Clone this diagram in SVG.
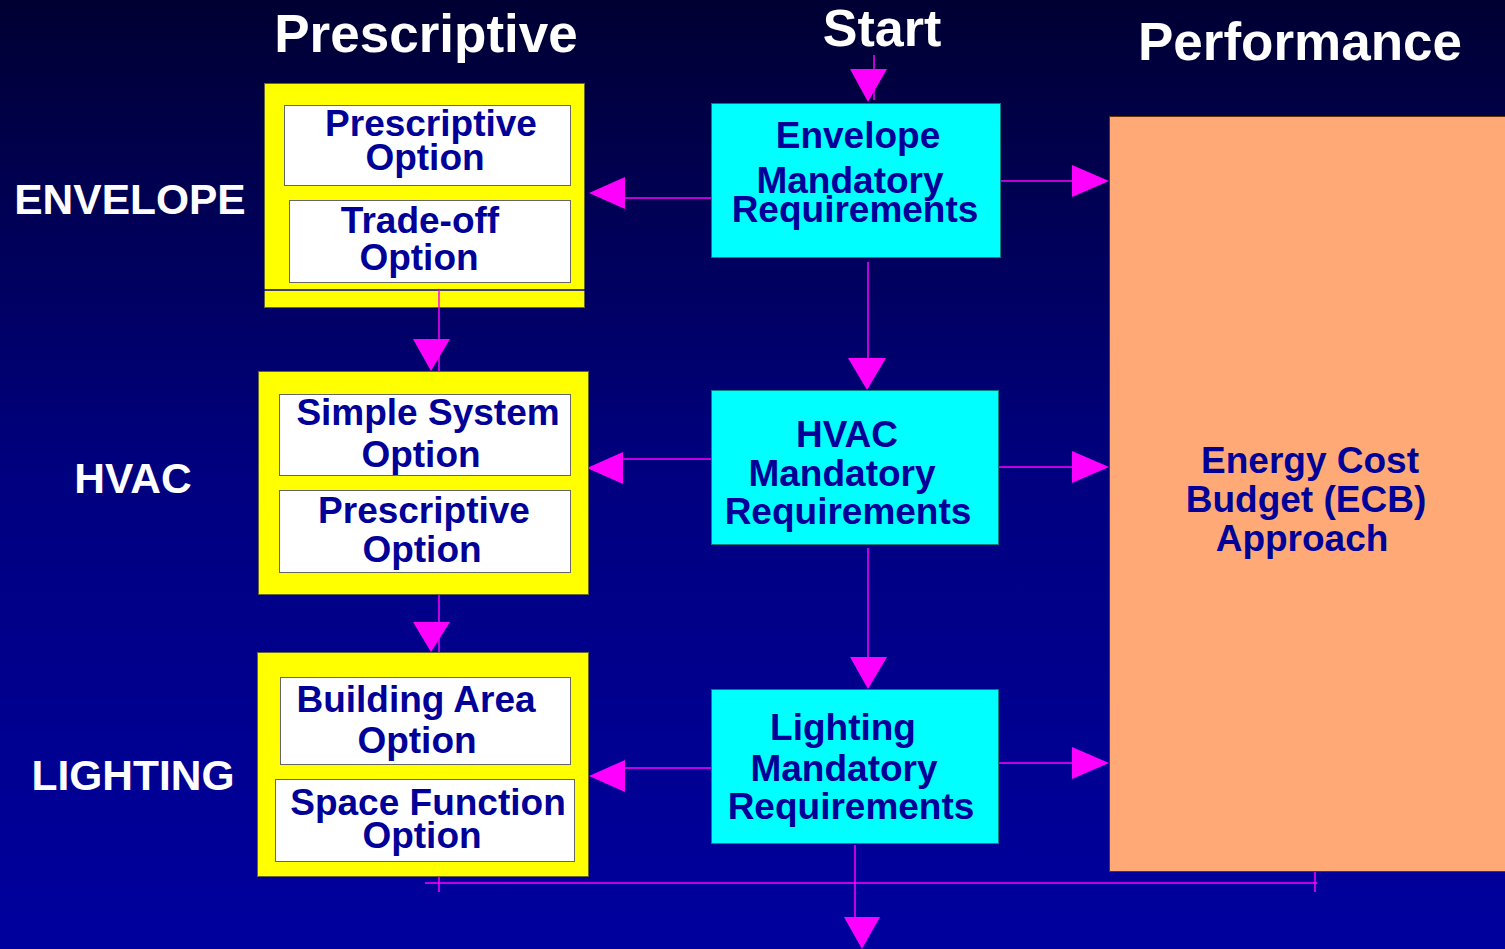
<svg xmlns="http://www.w3.org/2000/svg" width="1505" height="949" viewBox="0 0 1505 949">
<defs>
<linearGradient id="bg" x1="0" y1="0" x2="0" y2="1">
<stop offset="0" stop-color="#000033"/>
<stop offset="0.5" stop-color="#000080"/>
<stop offset="1" stop-color="#00009e"/>
</linearGradient>
<style>
.hd{font-family:"Liberation Sans",Arial,sans-serif;font-weight:bold;fill:#ffffff;text-anchor:middle}
.tx{font-family:"Liberation Sans",Arial,sans-serif;font-weight:bold;fill:#000099;text-anchor:middle;font-size:37px}
.yb{fill:#ffff00;stroke:#666633;stroke-width:1}
.wb{fill:#ffffff;stroke:#666666;stroke-width:1}
.cb{fill:#00ffff;stroke:#008080;stroke-width:1}
.ln{stroke:#ff00ff;stroke-width:1.5;fill:none}
.ah{fill:#ff00ff}
</style>
</defs>
<rect width="1505" height="949" fill="url(#bg)"/>

<text class="hd" x="426" y="52" font-size="53">Prescriptive</text>
<text class="hd" x="882" y="46" font-size="52">Start</text>
<text class="hd" x="1300" y="60" font-size="53">Performance</text>
<text class="hd" x="130" y="214" font-size="42.5">ENVELOPE</text>
<text class="hd" x="133" y="493" font-size="42.5">HVAC</text>
<text class="hd" x="133" y="790" font-size="42.5">LIGHTING</text>

<g id="connectors">
<line class="ln" x1="874" y1="55" x2="874" y2="100"/>
<polygon class="ah" points="850,69 887,69 868,102"/>
<line class="ln" x1="625" y1="198" x2="711" y2="198"/>
<polygon class="ah" points="589,193 625,177 625,209"/>
<line class="ln" x1="1001" y1="181" x2="1072" y2="181"/>
<polygon class="ah" points="1072,165 1072,197 1109,181"/>
<line class="ln" x1="868" y1="262" x2="868" y2="358"/>
<polygon class="ah" points="848,358 886,358 867,390"/>
<line class="ln" x1="439" y1="290" x2="439" y2="371"/>
<polygon class="ah" points="413,339 450,339 431,371"/>
<line class="ln" x1="623" y1="459" x2="711" y2="459"/>
<polygon class="ah" points="587,468 623,452 623,484"/>
<line class="ln" x1="999" y1="467" x2="1072" y2="467"/>
<polygon class="ah" points="1072,451 1072,483 1109,467"/>
<line class="ln" x1="868" y1="548" x2="868" y2="657"/>
<polygon class="ah" points="850,657 887,657 868,689"/>
<line class="ln" x1="439" y1="595" x2="439" y2="652"/>
<polygon class="ah" points="413,622 450,622 431,652"/>
<line class="ln" x1="625" y1="768" x2="711" y2="768"/>
<polygon class="ah" points="589,776 625,760 625,792"/>
<line class="ln" x1="999" y1="763" x2="1072" y2="763"/>
<polygon class="ah" points="1072,747 1072,779 1109,763"/>
<line class="ln" x1="855" y1="845" x2="855" y2="917"/>
<polygon class="ah" points="844,917 880,917 862,949"/>
<line class="ln" x1="425" y1="883" x2="1317" y2="883"/>
<line class="ln" x1="439" y1="877" x2="439" y2="892"/>
<line class="ln" x1="1315" y1="872" x2="1315" y2="892"/>
</g>

<g id="env-presc">
<rect class="yb" x="264.5" y="83.5" width="320" height="224"/>
<line x1="264" y1="290" x2="585" y2="290" stroke="#000099" stroke-width="1.5"/>
<line class="ln" x1="439" y1="290" x2="439" y2="308"/>
<rect class="wb" x="284.5" y="105.5" width="286" height="80"/>
<text class="tx" x="431" y="136">Prescriptive</text>
<text class="tx" x="425" y="170">Option</text>
<rect class="wb" x="289.5" y="200.5" width="281" height="82"/>
<text class="tx" x="420" y="233">Trade-off</text>
<text class="tx" x="419" y="270">Option</text>
</g>

<g id="hvac-presc">
<rect class="yb" x="258.5" y="371.5" width="330" height="223"/>
<rect class="wb" x="279.5" y="394.5" width="291" height="81"/>
<text class="tx" x="428" y="425">Simple System</text>
<text class="tx" x="421" y="467">Option</text>
<rect class="wb" x="279.5" y="490.5" width="291" height="82"/>
<text class="tx" x="424" y="523">Prescriptive</text>
<text class="tx" x="422" y="562">Option</text>
</g>

<g id="light-presc">
<rect class="yb" x="257.5" y="652.5" width="331" height="224"/>
<rect class="wb" x="280.5" y="677.5" width="290" height="87"/>
<text class="tx" x="416" y="712">Building Area</text>
<text class="tx" x="417" y="753">Option</text>
<rect class="wb" x="275.5" y="779.5" width="299" height="82"/>
<text class="tx" x="428" y="815">Space Function</text>
<text class="tx" x="422" y="848">Option</text>
</g>

<g id="env-mand">
<rect class="cb" x="711.5" y="103.5" width="289" height="154"/>
<text class="tx" x="858" y="148">Envelope</text>
<text class="tx" x="850" y="193">Mandatory</text>
<text class="tx" x="855" y="222">Requirements</text>
</g>

<g id="hvac-mand">
<rect class="cb" x="711.5" y="390.5" width="287" height="154"/>
<text class="tx" x="847" y="447">HVAC</text>
<text class="tx" x="842" y="486">Mandatory</text>
<text class="tx" x="848" y="524">Requirements</text>
</g>

<g id="light-mand">
<rect class="cb" x="711.5" y="689.5" width="287" height="154"/>
<text class="tx" x="843" y="740">Lighting</text>
<text class="tx" x="844" y="781">Mandatory</text>
<text class="tx" x="851" y="819">Requirements</text>
</g>

<g id="ecb">
<rect x="1109.5" y="116.5" width="400" height="755" fill="#ffaa76" stroke="#663300" stroke-width="1"/>
<text class="tx" x="1310" y="473">Energy Cost</text>
<text class="tx" x="1306" y="512">Budget (ECB)</text>
<text class="tx" x="1302" y="551">Approach</text>
</g>
</svg>
